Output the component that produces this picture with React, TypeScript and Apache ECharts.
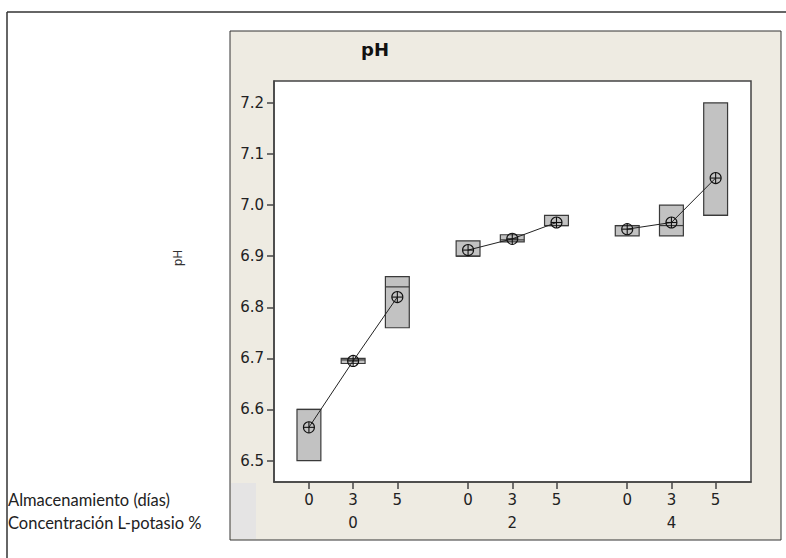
import React, { useEffect, useRef } from "react";
import * as echarts from "echarts";

const concentrations = ["0", "2", "4"];
const days = ["0", "3", "5"];
// per concentration group, per storage day
const q1 = [
  [6.5, 6.69, 6.76],
  [6.9, 6.928, 6.96],
  [6.94, 6.94, 6.98],
];
const q3 = [
  [6.6, 6.7, 6.86],
  [6.93, 6.942, 6.98],
  [6.96, 7.0, 7.2],
];
const medians = [
  [6.6, 6.697, 6.84],
  [6.9, 6.932, 6.96],
  [6.96, 6.96, 6.98],
];
const means = [
  [6.565, 6.695, 6.82],
  [6.912, 6.934, 6.966],
  [6.953, 6.966, 7.053],
];
const yTicks = [6.5, 6.6, 6.7, 6.8, 6.9, 7.0, 7.1, 7.2];

const GROUP_STEP = 3.6;
const posOf = (g: number, d: number) => g * GROUP_STEP + d;

export default function App() {
  const ref = useRef<HTMLDivElement>(null);
  useEffect(() => {
    if (!ref.current) return;
    const chart = echarts.init(ref.current, undefined, { renderer: "svg" });

    const dayPositions: number[] = [];
    const dayLabelMap: Record<string, string> = {};
    const groupCenters: number[] = [];
    const groupLabelMap: Record<string, string> = {};
    concentrations.forEach((c, g) => {
      days.forEach((d, i) => {
        const p = posOf(g, i);
        dayPositions.push(p);
        dayLabelMap[p.toFixed(3)] = d;
      });
      const center = posOf(g, 1);
      groupCenters.push(center);
      groupLabelMap[center.toFixed(3)] = c;
    });

    const boxData: number[][] = [];
    const meanData: number[][] = [];
    concentrations.forEach((_, g) => {
      days.forEach((__, i) => {
        boxData.push([posOf(g, i), q1[g][i], q3[g][i], medians[g][i]]);
        meanData.push([posOf(g, i), means[g][i]]);
      });
    });

    const lineSeries = concentrations.map((_, g) => ({
      type: "line",
      data: days.map((__, i) => [posOf(g, i), means[g][i]]),
      symbol: "none",
      lineStyle: { color: "#222", width: 1 },
      z: 3,
      silent: true,
    }));

    const tickFont = "DejaVu Sans";
    const tickSize = 15;
    const xMin = -0.79;
    const xMax = 10;

    chart.setOption({
      animation: false,
      graphic: [
        {
          type: "line",
          shape: { x1: 7, y1: 12, x2: 786, y2: 12 },
          style: { stroke: "#333", lineWidth: 1.5 },
          z: -10,
        },
        {
          type: "line",
          shape: { x1: 7, y1: 12, x2: 7, y2: 558 },
          style: { stroke: "#333", lineWidth: 1.5 },
          z: -10,
        },
        {
          type: "rect",
          shape: { x: 230, y: 31, width: 551, height: 509 },
          style: { fill: "#eeebe2", stroke: "#333", lineWidth: 1 },
          z: -10,
        },
        {
          type: "rect",
          shape: { x: 231, y: 483, width: 25, height: 56 },
          style: { fill: "#e5e4e4" },
          z: -9,
        },
        {
          type: "text",
          x: 361,
          y: 49,
          style: {
            text: "pH",
            font: "bold 18px DejaVu Sans",
            fill: "#111",
            verticalAlign: "middle",
          },
        },
        {
          type: "text",
          x: 178,
          y: 258,
          rotation: Math.PI / 2,
          style: {
            text: "pH",
            font: "12px DejaVu Sans",
            fill: "#333",
            align: "center",
            verticalAlign: "middle",
          },
        },
        {
          type: "text",
          x: 8,
          y: 500,
          style: {
            text: "Almacenamiento (días)",
            font: "16.5px Lato",
            fill: "#222",
            verticalAlign: "middle",
          },
        },
        {
          type: "text",
          x: 8,
          y: 523,
          style: {
            text: "Concentración L-potasio %",
            font: "16.5px Lato",
            fill: "#222",
            verticalAlign: "middle",
          },
        },
      ],
      grid: {
        left: 274,
        top: 81,
        width: 477,
        height: 401,
        show: true,
        backgroundColor: "#ffffff",
        borderColor: "#444",
        borderWidth: 1.5,
      },
      xAxis: [
        {
          type: "value",
          min: xMin,
          max: xMax,
          splitLine: { show: false },
          axisLine: { show: true, onZero: false, lineStyle: { color: "#444", width: 1.5 } },
          axisTick: {
            show: true,
            length: 7,
            customValues: dayPositions,
            lineStyle: { color: "#444", width: 1.5 },
          },
          axisLabel: {
            customValues: dayPositions,
            formatter: (v: number) => dayLabelMap[v.toFixed(3)] ?? "",
            fontFamily: tickFont,
            fontSize: tickSize,
            color: "#222",
            margin: 10,
          },
        },
        {
          type: "value",
          position: "bottom",
          offset: 23,
          min: xMin,
          max: xMax,
          splitLine: { show: false },
          axisLine: { show: false, onZero: false },
          axisTick: { show: false },
          axisLabel: {
            customValues: groupCenters,
            formatter: (v: number) => groupLabelMap[v.toFixed(3)] ?? "",
            fontFamily: tickFont,
            fontSize: tickSize,
            color: "#222",
            margin: 10,
          },
        },
      ],
      yAxis: {
        type: "value",
        min: 6.458,
        max: 7.243,
        splitLine: { show: false },
        axisLine: { show: true, onZero: false, lineStyle: { color: "#444", width: 1.5 } },
        axisTick: {
          show: true,
          length: 7,
          customValues: yTicks,
          lineStyle: { color: "#444", width: 1.5 },
        },
        axisLabel: {
          customValues: yTicks,
          formatter: (v: number) => v.toFixed(1),
          fontFamily: tickFont,
          fontSize: tickSize,
          color: "#222",
          margin: 10,
        },
      },
      series: [
        {
          type: "custom",
          data: boxData,
          encode: { x: 0, y: [1, 2, 3] },
          z: 2,
          silent: true,
          renderItem: (params: any, api: any) => {
            const x = api.value(0);
            const lo = api.coord([x, api.value(1)]);
            const hi = api.coord([x, api.value(2)]);
            const med = api.coord([x, api.value(3)]);
            const w = api.size([0.54, 0])[0];
            return {
              type: "group",
              children: [
                {
                  type: "rect",
                  shape: { x: lo[0] - w / 2, y: hi[1], width: w, height: lo[1] - hi[1] },
                  style: { fill: "#c2c2c2", stroke: "#3a3a3a", lineWidth: 1.2 },
                },
                {
                  type: "line",
                  shape: { x1: lo[0] - w / 2, y1: med[1], x2: lo[0] + w / 2, y2: med[1] },
                  style: { stroke: "#3a3a3a", lineWidth: 1.2 },
                },
              ],
            };
          },
        },
        ...lineSeries,
        {
          type: "custom",
          data: meanData,
          encode: { x: 0, y: 1 },
          z: 4,
          silent: true,
          renderItem: (params: any, api: any) => {
            const p = api.coord([api.value(0), api.value(1)]);
            const r = 5.5;
            return {
              type: "group",
              children: [
                {
                  type: "circle",
                  shape: { cx: p[0], cy: p[1], r },
                  style: { fill: "none", stroke: "#111", lineWidth: 1.1 },
                },
                {
                  type: "line",
                  shape: { x1: p[0] - r, y1: p[1], x2: p[0] + r, y2: p[1] },
                  style: { stroke: "#111", lineWidth: 1.1 },
                },
                {
                  type: "line",
                  shape: { x1: p[0], y1: p[1] - r, x2: p[0], y2: p[1] + r },
                  style: { stroke: "#111", lineWidth: 1.1 },
                },
              ],
            };
          },
        },
      ],
    });
    return () => chart.dispose();
  }, []);
  return (
    <div
      ref={ref}
      style={{ position: "fixed", left: 0, top: 0, width: 786, height: 558, background: "#fff" }}
    />
  );
}
